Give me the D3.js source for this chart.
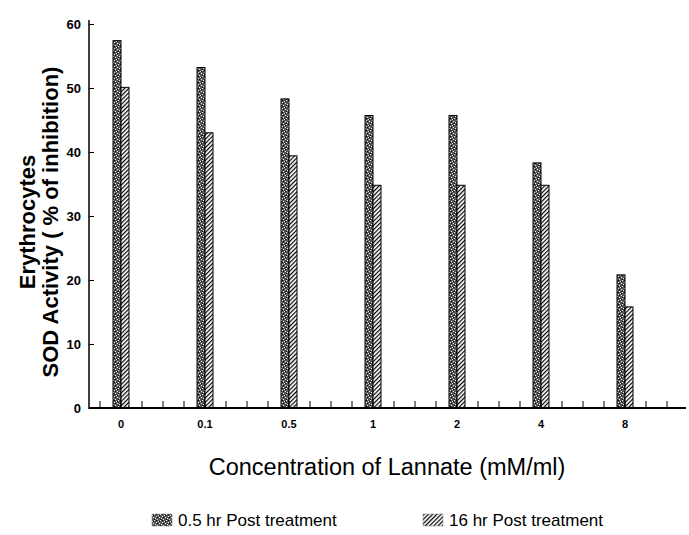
<!DOCTYPE html>
<html><head><meta charset="utf-8">
<script src="https://cdn.jsdelivr.net/npm/d3@7"></script>
<style>body{margin:0;background:#fff}svg{display:block}text{font-family:"Liberation Sans",Arial,sans-serif}</style>
</head><body>
<svg id="c" width="689" height="535"></svg>
<script>
const categories = ["0","0.1","0.5","1","2","4","8"];
const series1 = [57.4, 53.2, 48.3, 45.7, 45.7, 38.3, 20.8]; // 0.5 hr Post treatment
const series2 = [50.1, 43.0, 39.4, 34.8, 34.8, 34.8, 15.8]; // 16 hr Post treatment
const seriesNames = ["0.5 hr Post treatment", "16 hr Post treatment"];
const yTicks = [0,10,20,30,40,50,60];

const svg = d3.select("#c");
const defs = svg.append("defs");
const st = defs.append("pattern").attr("id","stip").attr("patternUnits","userSpaceOnUse").attr("width",6).attr("height",6);
st.append("rect").attr("width",6).attr("height",6).attr("fill","#555");
[[0,0],[3,1],[1,3],[4,4],[2,5],[5,2]].forEach(p=>st.append("rect").attr("x",p[0]).attr("y",p[1]).attr("width",1).attr("height",1).attr("fill","#eee"));
[[1,1],[4,3],[0,4],[3,5]].forEach(p=>st.append("rect").attr("x",p[0]).attr("y",p[1]).attr("width",1).attr("height",1).attr("fill","#000"));
const ht = defs.append("pattern").attr("id","hatch").attr("patternUnits","userSpaceOnUse").attr("width",3).attr("height",3).attr("patternTransform","rotate(45)");
ht.append("rect").attr("width",3).attr("height",3).attr("fill","#fff");
ht.append("rect").attr("width",1.2).attr("height",3).attr("fill","#000");

const y = d3.scaleLinear().domain([0,60]).range([408,24]);
const x = d3.scaleLinear().domain([0,6]).range([121,625]);
const xLeft = 89, xRight = 686;
const bw = 8;

const g = svg.append("g");
categories.forEach((c,i)=>{
  g.append("rect").attr("x",x(i)-bw).attr("y",y(series1[i])).attr("width",bw).attr("height",y(0)-y(series1[i]))
    .attr("fill","url(#stip)").attr("stroke","#000").attr("stroke-width",1);
  g.append("rect").attr("x",x(i)).attr("y",y(series2[i])).attr("width",bw).attr("height",y(0)-y(series2[i]))
    .attr("fill","url(#hatch)").attr("stroke","#000").attr("stroke-width",1);
});

const ya = svg.append("g").attr("transform",`translate(${xLeft},0)`)
  .call(d3.axisRight(y).tickValues(yTicks).tickSize(5).tickFormat(""));
ya.select(".domain").remove();
svg.append("line").attr("x1",xLeft).attr("x2",xLeft).attr("y1",y(60)-4).attr("y2",y(0)+1).attr("stroke","#000").attr("stroke-width",1.5);
svg.append("g").selectAll("text").data(yTicks).join("text")
  .attr("x",xLeft-8).attr("y",d=>y(d)+4.5).attr("text-anchor","end")
  .attr("font-size",13).attr("font-weight","bold").text(d=>d);

const minor = d3.range(-1, 28).map(k=>k*0.25).filter(v=>x(v)>xLeft+5 && x(v)<=xRight);
svg.append("g").selectAll("line").data(minor).join("line")
  .attr("x1",d=>x(d)).attr("x2",d=>x(d)).attr("y1",y(0)).attr("y2",y(0)-7).attr("stroke","#000").attr("stroke-width",1);
svg.append("line").attr("x1",xLeft).attr("x2",xRight).attr("y1",y(0)).attr("y2",y(0)).attr("stroke","#000").attr("stroke-width",2);
svg.append("g").selectAll("text").data(categories).join("text")
  .attr("x",(d,i)=>x(i)).attr("y",428).attr("text-anchor","middle").attr("font-size",11).attr("font-weight","bold").text(d=>d);

svg.append("text").attr("x",387).attr("y",475).attr("text-anchor","middle").attr("font-size",23.5).text("Concentration of Lannate (mM/ml)");
const yt = svg.append("text").attr("transform","translate(35,222) rotate(-90)").attr("text-anchor","middle").attr("font-size",22).attr("font-weight","bold");
yt.append("tspan").attr("x",0).attr("dy",0).text("Erythrocytes");
yt.append("tspan").attr("x",0).attr("dy",23).text("SOD Activity ( % of inhibition)");

const leg = [{x:152, fill:"url(#stip)", name:seriesNames[0]},{x:423, fill:"url(#hatch)", name:seriesNames[1]}];
leg.forEach(l=>{
  svg.append("rect").attr("x",l.x).attr("y",514).attr("width",20).attr("height",12).attr("fill",l.fill).attr("stroke","#888").attr("stroke-width",0.5);
  svg.append("text").attr("x",l.x+26).attr("y",526).attr("font-size",17).text(l.name);
});
</script>
</body></html>
